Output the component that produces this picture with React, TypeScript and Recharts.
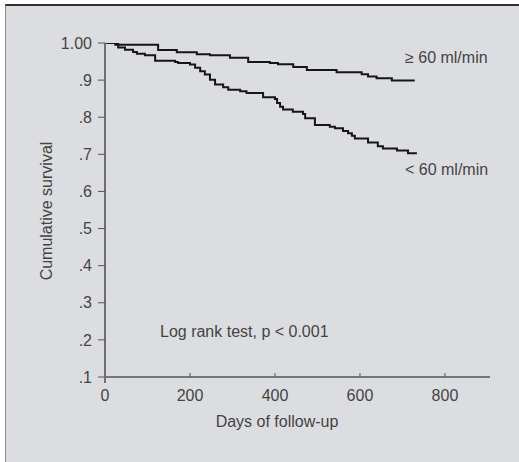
import React from 'react';
import { LineChart, Line, XAxis, YAxis } from 'recharts';

// ≥ 60 ml/min group (Kaplan–Meier steps)
const highDays = [0, 31, 125, 169, 216, 247, 294, 337, 388, 407, 443, 475, 545, 604, 619, 639, 675, 729];
const highSurv = [1.0, 0.995, 0.981, 0.975, 0.970, 0.967, 0.960, 0.949, 0.946, 0.943, 0.935, 0.927, 0.921, 0.916, 0.910, 0.905, 0.899, 0.899];

// < 60 ml/min group
const lowDays = [0, 24, 31, 47, 66, 75, 94, 118, 165, 172, 200, 212, 224, 235, 247, 259, 278, 290, 318, 333, 372, 400, 405, 412, 419, 442, 466, 471, 494, 529, 541, 560, 572, 581, 588, 619, 642, 654, 687, 713, 734];
const lowSurv = [1.0, 0.995, 0.988, 0.982, 0.976, 0.971, 0.967, 0.952, 0.949, 0.946, 0.942, 0.933, 0.924, 0.915, 0.901, 0.888, 0.881, 0.874, 0.870, 0.865, 0.854, 0.849, 0.838, 0.828, 0.821, 0.815, 0.809, 0.797, 0.779, 0.774, 0.770, 0.763, 0.757, 0.750, 0.743, 0.732, 0.722, 0.716, 0.710, 0.703, 0.703];

const xTicks = [0, 200, 400, 600, 800];
const yTicks = [0.1, 0.2, 0.3, 0.4, 0.5, 0.6, 0.7, 0.8, 0.9, 1.0];

const highLabel = '\u2265 60 ml/min';
const lowLabel = '< 60 ml/min';
const testLabel = 'Log rank test, p < 0.001';
const xTitle = 'Days of follow-up';
const yTitle = 'Cumulative survival';

const highData = highDays.map((d, i) => ({ day: d, s: highSurv[i] }));
const lowData = lowDays.map((d, i) => ({ day: d, s: lowSurv[i] }));

const FONT = '"Liberation Sans", Arial, sans-serif';
const TEXT = '#444444';

const fmtY = (v: number) => (Math.abs(v - 1) < 1e-9 ? '1.00' : '.' + Math.round(v * 10));

const XTick = (props: any) => {
  const { x, y, payload } = props;
  const isZero = payload.value === 0;
  return (
    <g>
      {isZero ? (
        <line x1={x} y1={y} x2={x} y2={y + 6} stroke="#707070" strokeWidth={2} />
      ) : (
        <line x1={x} y1={y} x2={x} y2={y - 4} stroke="#555" strokeWidth={1} />
      )}
      <text x={x} y={y + 24} textAnchor="middle" fontFamily={FONT} fontSize={16} fill={TEXT}>
        {payload.value}
      </text>
    </g>
  );
};

export default function App() {
  return (
    <div style={{ position: 'absolute', left: 0, top: 0, width: 519, height: 462, fontFamily: FONT }}>
      <div
        style={{
          position: 'absolute',
          left: 5,
          top: 4,
          width: 514,
          height: 456,
          background: '#dcdde0',
          borderTop: '2px solid #2e2e2e',
          borderLeft: '1px solid #8a8a8a',
          borderBottom: '1px solid #a8a8a8',
        }}
      />
      <div style={{ position: 'absolute', left: 0, top: 0 }}>
        <LineChart width={519} height={462} margin={{ top: 43, right: 29, bottom: 55, left: 45 }}>
          <XAxis
            type="number"
            dataKey="day"
            domain={[0, 906]}
            ticks={xTicks}
            allowDataOverflow
            height={30}
            tickLine={false}
            tickSize={0}
            tickMargin={0}
            axisLine={{ stroke: '#111', strokeWidth: 1 }}
            tick={<XTick />}
            interval={0}
          />
          <YAxis
            type="number"
            dataKey="s"
            domain={[0.1, 1]}
            ticks={yTicks}
            allowDataOverflow
            width={60}
            tickSize={7}
            tickMargin={6}
            tickFormatter={fmtY}
            interval={0}
            axisLine={{ stroke: '#707070', strokeWidth: 2 }}
            tickLine={{ stroke: '#555', strokeWidth: 1 }}
            tick={{ fontFamily: FONT, fontSize: 16, fill: TEXT }}
          />
          <Line
            data={highData}
            dataKey="s"
            type="stepAfter"
            stroke="#161616"
            strokeWidth={2}
            dot={false}
            isAnimationActive={false}
          />
          <Line
            data={lowData}
            dataKey="s"
            type="stepAfter"
            stroke="#161616"
            strokeWidth={2}
            dot={false}
            isAnimationActive={false}
          />
        </LineChart>
      </div>
      <svg
        width={519}
        height={462}
        style={{ position: 'absolute', left: 0, top: 0, pointerEvents: 'none' }}
      >
        <text x={405} y={63} fontFamily={FONT} fontSize={16} fill={TEXT}>{highLabel}</text>
        <text x={405} y={175} fontFamily={FONT} fontSize={16} fill={TEXT}>{lowLabel}</text>
        <text x={160} y={337} fontFamily={FONT} fontSize={16} fill={TEXT}>{testLabel}</text>
        <text x={277} y={427} textAnchor="middle" fontFamily={FONT} fontSize={16} fill={TEXT}>{xTitle}</text>
        <text
          x={52}
          y={211}
          textAnchor="middle"
          transform="rotate(-90 52 211)"
          fontFamily={FONT}
          fontSize={16}
          fill={TEXT}
        >
          {yTitle}
        </text>
      </svg>
    </div>
  );
}
